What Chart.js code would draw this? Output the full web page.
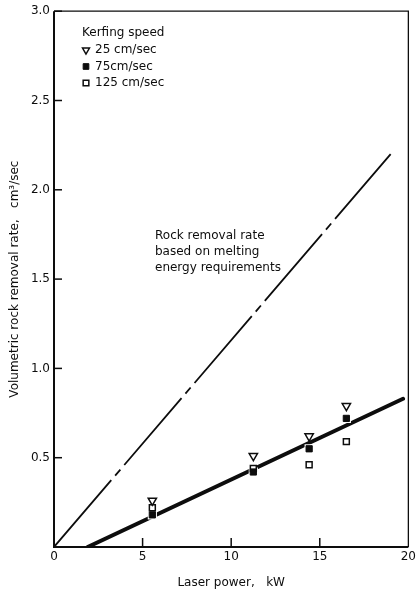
<!DOCTYPE html>
<html>
<head>
<meta charset="utf-8">
<script src="https://cdn.jsdelivr.net/npm/chart.js@4.4.1/dist/chart.umd.min.js"></script>
<style>
  html, body { margin: 0; padding: 0; background: #fff; }
  #wrap { width: 419px; height: 592px; }
</style>
</head>
<body>
<div id="wrap"><canvas id="rockChart" width="419" height="592"></canvas></div>
<script>
// data
const speedLabels = ['25 cm/sec', '75cm/sec', '125 cm/sec'];
const powerKW = [5.55, 11.25, 14.4, 16.5];
const rate25 = [0.26, 0.51, 0.62, 0.79];
const rate75 = [0.18, 0.42, 0.55, 0.72];
const rate125 = [0.22, 0.44, 0.46, 0.59];
// line end points (kW, cm3/sec)
const meltLine = [[0, 0], [19.0, 2.2]];
const fitLine = [[1.9, 0], [19.7, 0.83]];
const xTicks = [0, 5, 10, 15, 20];
const yTicks = [0.5, 1.0, 1.5, 2.0, 2.5, 3.0];
const legendTitle = 'Kerfing speed';
const noteLines = ['Rock removal rate', 'based on melting', 'energy requirements'];

const FONT = 'DejaVu Sans';
const INK = '#0d0d0d';

const toPts = (xs, ys) => xs.map((x, i) => ({ x: x, y: ys[i] }));
const toXY = arr => arr.map(p => ({ x: p[0], y: p[1] }));

const markerStyles = [
    { pointStyle: 'triangle', rotation: 180, radius: 4.8, backgroundColor: '#fff', borderColor: INK, borderWidth: 1.5 },
    { pointStyle: 'rect', rotation: 0, radius: 4.4, backgroundColor: INK, borderColor: INK, borderWidth: 1 },
    { pointStyle: 'rect', rotation: 0, radius: 4.2, backgroundColor: '#fff', borderColor: INK, borderWidth: 1.5 }
];

function markerSet(label, ys, st, order) {
    return {
        label: label,
        data: toPts(powerKW, ys),
        showLine: false,
        pointStyle: st.pointStyle,
        pointRotation: st.rotation,
        pointRadius: st.radius,
        pointBackgroundColor: st.backgroundColor,
        pointBorderColor: st.borderColor,
        pointBorderWidth: st.borderWidth,
        order: order
    };
}

// white halo under the markers so the thick line breaks round them
function haloSet(ys, order) {
    return {
        label: 'halo',
        data: toPts(powerKW, ys),
        showLine: false,
        pointStyle: 'rect',
        pointRadius: 6.5,
        pointBackgroundColor: '#fff',
        pointBorderWidth: 0,
        order: order
    };
}

// frame, inward ticks, legend block and annotation
const paperPlugin = {
    id: 'paper',
    beforeDatasetsDraw(chart) {
        const { ctx, chartArea: a, scales } = chart;
        ctx.save();
        ctx.strokeStyle = INK;
        ctx.lineWidth = 1.3;
        ctx.beginPath();
        ctx.moveTo(a.left, a.top);
        ctx.lineTo(a.right, a.top);
        ctx.lineTo(a.right, a.bottom);
        ctx.stroke();
        ctx.lineWidth = 2;
        ctx.beginPath();
        ctx.moveTo(a.left, a.top);
        ctx.lineTo(a.left, a.bottom);
        ctx.lineTo(a.right, a.bottom);
        ctx.stroke();
        ctx.lineWidth = 1.5;
        yTicks.forEach(v => {
            const y = scales.y.getPixelForValue(v);
            ctx.beginPath();
            ctx.moveTo(a.left, y);
            ctx.lineTo(a.left + 8, y);
            ctx.stroke();
        });
        xTicks.slice(1, -1).forEach(v => {
            const x = scales.x.getPixelForValue(v);
            ctx.beginPath();
            ctx.moveTo(x, a.bottom);
            ctx.lineTo(x, a.bottom - 9);
            ctx.stroke();
        });
        ctx.restore();
    },
    afterDatasetsDraw(chart) {
        const { ctx } = chart;
        ctx.save();
        ctx.fillStyle = INK;
        ctx.font = '12px "' + FONT + '"';
        ctx.textBaseline = 'middle';
        ctx.textAlign = 'left';
        ctx.fillText(legendTitle, 82, 33);
        speedLabels.forEach((lab, i) => {
            const y = 50 + i * 16.5;
            const st = markerStyles[i];
            ctx.fillStyle = st.backgroundColor;
            ctx.strokeStyle = st.borderColor;
            ctx.lineWidth = st.borderWidth;
            Chart.helpers.drawPoint(ctx, { pointStyle: st.pointStyle, rotation: st.rotation, radius: 4, borderWidth: st.borderWidth }, 86, y);
            ctx.fillStyle = INK;
            ctx.fillText(lab, 95, y);
        });
        noteLines.forEach((t, i) => ctx.fillText(t, 155, 236 + i * 16));
        ctx.restore();
    }
};

new Chart(document.getElementById('rockChart').getContext('2d'), {
    type: 'scatter',
    data: {
        datasets: [
            markerSet(speedLabels[0], rate25, markerStyles[0], 0),
            markerSet(speedLabels[1], rate75, markerStyles[1], 1),
            markerSet(speedLabels[2], rate125, markerStyles[2], 2),
            haloSet(rate75, 3),
            {
                label: 'melting',
                data: toXY(meltLine),
                showLine: true,
                borderColor: INK,
                borderWidth: 1.8,
                borderDash: [88, 6, 8, 6],
                pointRadius: 0,
                order: 4
            },
            {
                label: 'measured',
                data: toXY(fitLine),
                showLine: true,
                borderColor: INK,
                borderWidth: 4,
                borderCapStyle: 'round',
                pointRadius: 0,
                order: 4
            }
        ]
    },
    options: {
        responsive: false,
        animation: false,
        layout: { padding: { top: 7, right: 9, left: 0, bottom: 0 } },
        plugins: {
            legend: { display: false },
            tooltip: { enabled: false }
        },
        scales: {
            x: {
                type: 'linear',
                min: 0,
                max: 20,
                afterFit: s => { s.height = 45; },
                afterBuildTicks: s => { s.ticks = xTicks.map(v => ({ value: v })); },
                grid: { display: false, drawTicks: false },
                border: { display: false },
                ticks: { color: INK, padding: 3, font: { family: FONT, size: 12 } },
                title: {
                    display: true,
                    text: 'Laser power,   kW',
                    color: INK,
                    font: { family: FONT, size: 12 },
                    padding: { top: 0, bottom: 2 }
                }
            },
            y: {
                type: 'linear',
                min: 0,
                max: 3,
                afterFit: s => { s.width = 54; },
                afterBuildTicks: s => { s.ticks = yTicks.map(v => ({ value: v })); },
                grid: { display: false, drawTicks: false },
                border: { display: false },
                ticks: {
                    color: INK,
                    padding: 4,
                    font: { family: FONT, size: 12 },
                    callback: v => v.toFixed(1)
                },
                title: {
                    display: true,
                    text: 'Volumetric rock removal rate,   cm\u00b3/sec',
                    color: INK,
                    font: { family: FONT, size: 12 },
                    padding: { top: 8, bottom: 0 }
                }
            }
        }
    },
    plugins: [paperPlugin]
});
</script>
</body>
</html>
